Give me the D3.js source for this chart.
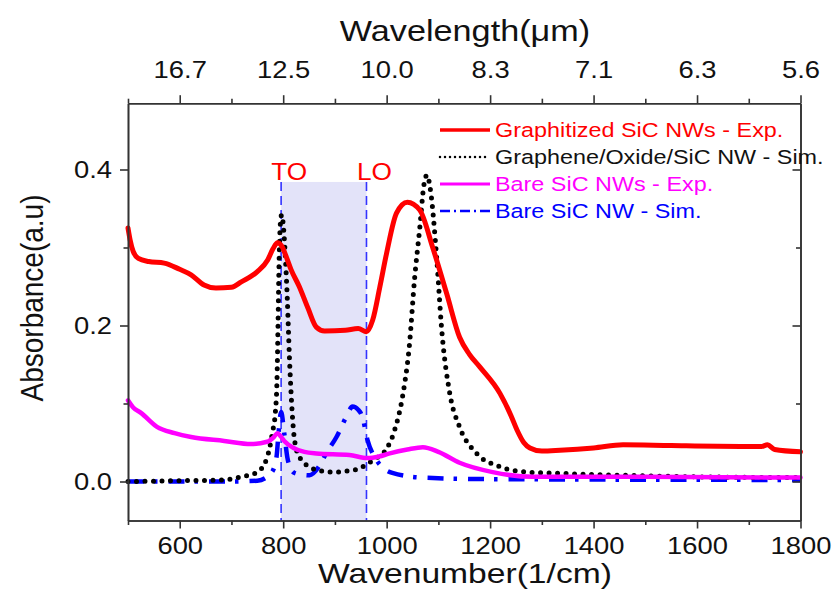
<!DOCTYPE html>
<html>
<head>
<meta charset="utf-8">
<script src="https://cdn.jsdelivr.net/npm/d3@7"></script>
<style>
  body { margin: 0; background: #fff; }
  svg { display: block; font-family: "Liberation Sans", Arial, sans-serif; }
</style>
</head>
<body>
<div id="chart"></div>
<script>
// wavenumber (1/cm), absorbance (a.u)
const graphitizedExp = [
  [500, 0.325], [504, 0.31], [510, 0.295], [520, 0.286], [540, 0.282], [570, 0.280],
  [600, 0.272], [622, 0.265], [647, 0.252], [670, 0.248], [700, 0.249], [719, 0.256],
  [750, 0.269], [770, 0.284], [780, 0.298], [789, 0.306], [797, 0.302], [806, 0.288],
  [815, 0.272], [831, 0.25], [848, 0.222], [864, 0.198], [880, 0.193], [920, 0.194],
  [945, 0.196], [961, 0.192], [973, 0.207], [987, 0.25], [1000, 0.293], [1019, 0.344],
  [1040, 0.358], [1064, 0.348], [1089, 0.30], [1116, 0.241], [1141, 0.185], [1160, 0.163],
  [1180, 0.147], [1219, 0.113], [1240, 0.085], [1252, 0.066], [1265, 0.05], [1277, 0.043],
  [1300, 0.039], [1335, 0.040], [1400, 0.043], [1457, 0.047], [1550, 0.046], [1684, 0.045],
  [1725, 0.045], [1736, 0.047], [1750, 0.041], [1800, 0.038]
];

const grapheneSim = [
  [500, 0.0], [600, 0.001], [686, 0.002], [719, 0.006], [750, 0.012], [769, 0.031],
  [779, 0.062], [785, 0.09], [788, 0.13], [790, 0.2], [792, 0.28], [795, 0.335],
  [797, 0.342], [800, 0.33], [804, 0.29], [808, 0.233], [812, 0.16], [816, 0.104],
  [820, 0.065], [826, 0.04], [835, 0.028], [864, 0.015], [895, 0.012], [930, 0.014],
  [948, 0.017], [961, 0.022], [980, 0.03], [1000, 0.042], [1015, 0.065], [1031, 0.11],
  [1044, 0.175], [1054, 0.26], [1064, 0.325], [1072, 0.38], [1078, 0.393], [1085, 0.372],
  [1097, 0.284], [1106, 0.198], [1122, 0.113], [1141, 0.07], [1174, 0.036], [1219, 0.019],
  [1271, 0.012], [1310, 0.011], [1400, 0.009], [1600, 0.006], [1800, 0.005]
];

const bareExp = [
  [500, 0.104], [510, 0.095], [525, 0.088], [556, 0.07], [590, 0.062], [622, 0.057],
  [686, 0.052], [738, 0.048], [769, 0.051], [782, 0.057], [789, 0.062], [795, 0.058],
  [802, 0.052], [820, 0.043], [841, 0.038], [864, 0.036], [928, 0.034], [963, 0.030],
  [985, 0.032], [1006, 0.036], [1040, 0.041], [1070, 0.044], [1100, 0.038], [1141, 0.024],
  [1205, 0.012], [1283, 0.006], [1500, 0.006], [1800, 0.005]
];

const bareSim = [
  [500, 0.0], [700, 0.0], [750, 0.001], [777, 0.011], [787, 0.031], [791, 0.062],
  [796, 0.089], [802, 0.062], [808, 0.031], [815, 0.016], [822, 0.011], [835, 0.009],
  [851, 0.008], [870, 0.02], [883, 0.036], [903, 0.057], [922, 0.083], [934, 0.096],
  [945, 0.092], [953, 0.083], [963, 0.053], [980, 0.028], [1011, 0.011], [1070, 0.005],
  [1200, 0.003], [1800, 0.002]
];

const phononLines = [{ label: "TO", wn: 796 }, { label: "LO", wn: 961 }];
const bandTop = 0.384;

const legendLabels = [
  "Graphitized SiC NWs - Exp.",
  "Graphene/Oxide/SiC NW - Sim.",
  "Bare SiC NWs - Exp.",
  "Bare SiC NW - Sim."
];

const xMajor = [600, 800, 1000, 1200, 1400, 1600, 1800];
const xMinor = [500, 700, 900, 1100, 1300, 1500, 1700];
const yMajor = [0.0, 0.2, 0.4];
const yMinor = [0.1, 0.3];

const width = 835;
const height = 590;
const STRETCH = 1.14; // glyphs in the picture are a bit wider than tall

const x = d3.scaleLinear().domain([500, 1800]).range([128, 800.5]);
const y = d3.scaleLinear().domain([-0.05, 0.485]).range([520.5, 103.2]);

const svg = d3.select("#chart").append("svg")
  .attr("width", width)
  .attr("height", height);

svg.append("rect").attr("width", width).attr("height", height).attr("fill", "#fff");

// shaded reststrahlen band
svg.append("rect")
  .attr("x", x(phononLines[0].wn))
  .attr("y", y(bandTop))
  .attr("width", x(phononLines[1].wn) - x(phononLines[0].wn))
  .attr("height", y(-0.05) - y(bandTop))
  .attr("fill", "rgba(100,100,220,0.18)");

svg.selectAll(".phonon")
  .data(phononLines)
  .join("line")
  .attr("class", "phonon")
  .attr("x1", d => x(d.wn)).attr("x2", d => x(d.wn))
  .attr("y1", y(bandTop)).attr("y2", y(-0.05))
  .attr("stroke", "#3333ff")
  .attr("stroke-width", 1.6)
  .attr("stroke-dasharray", "9 5");

svg.selectAll(".phonon-label")
  .data(phononLines)
  .join("text")
  .attr("class", "phonon-label stretch")
  .attr("x", d => x(d.wn) + 8)
  .attr("y", 180)
  .attr("text-anchor", "middle")
  .attr("font-size", 23)
  .attr("fill", "#ff0000")
  .text(d => d.label);

// curves
const line = d3.line()
  .x(d => x(d[0]))
  .y(d => y(d[1]))
  .curve(d3.curveMonotoneX);

const series = [
  { data: bareSim, color: "#0000ff", width: 4.5, dash: "16 10 3.5 11", cap: "butt" },
  { data: grapheneSim, color: "#000000", width: 5, dash: "0 8.5", cap: "round" },
  { data: bareExp, color: "#ff00ff", width: 4.5, dash: null, cap: "round" },
  { data: graphitizedExp, color: "#ff0000", width: 5, dash: null, cap: "round" }
];

const plot = svg.append("g").attr("class", "curves");
series.forEach(s => {
  plot.append("path")
    .datum(s.data)
    .attr("d", line)
    .attr("fill", "none")
    .attr("stroke", s.color)
    .attr("stroke-width", s.width)
    .attr("stroke-linecap", s.cap)
    .attr("stroke-linejoin", "round")
    .attr("stroke-dasharray", s.dash);
});

// axes
function drawAxis(axisFn, transform, major, minor, fmt, padding, inward) {
  const dir = inward ? -1 : 1;
  svg.append("g")
    .attr("transform", transform)
    .call(axisFn().tickValues(minor).tickFormat("").tickSize(4.5 * dir).tickSizeOuter(0));
  return svg.append("g")
    .attr("transform", transform)
    .call(axisFn().tickValues(major).tickFormat(fmt).tickSize(8 * dir).tickPadding(padding).tickSizeOuter(0));
}

const gBottom = drawAxis(() => d3.axisBottom(x), "translate(0,520.5)", xMajor, xMinor, d3.format("d"), 8, false);
const gTop = drawAxis(() => d3.axisTop(x), "translate(0,103.2)", xMajor, xMinor, d => (10000 / d).toFixed(1), 17, false);
const gLeft = drawAxis(() => d3.axisLeft(y), "translate(128,0)", yMajor, yMinor, d3.format(".1f"), 8, false);
const gRight = drawAxis(() => d3.axisRight(y), "translate(800.5,0)", yMajor, yMinor, "", 0, true);

svg.selectAll(".domain, .tick line")
  .attr("stroke", "#333")
  .attr("stroke-width", 1.6);

[gBottom, gTop, gLeft].forEach(g => {
  g.selectAll("text")
    .attr("class", "stretch")
    .attr("fill", "#111")
    .style("font-family", "'Liberation Sans', Arial, sans-serif")
    .style("font-size", "24px");
});
gRight.selectAll("text").remove();

// axis titles
svg.append("text")
  .attr("class", "stretch wide")
  .attr("x", 465).attr("y", 583)
  .attr("text-anchor", "middle")
  .attr("font-size", 28)
  .attr("fill", "#111")
  .text("Wavenumber(1/cm)");

svg.append("text")
  .attr("class", "stretch")
  .attr("x", 465).attr("y", 41)
  .attr("text-anchor", "middle")
  .attr("font-size", 30)
  .attr("fill", "#111")
  .text("Wavelength(\u03bcm)");

svg.append("text")
  .attr("transform", "translate(43,298) scale(1.14,1) rotate(-90)")
  .attr("text-anchor", "middle")
  .attr("font-size", 28)
  .attr("fill", "#111")
  .text("Absorbance(a.u)");

// legend
const legendRows = [130, 157, 184, 211];
const legendStyle = [
  { color: "#ff0000", width: 3.5, dash: null, cap: "butt" },
  { color: "#000000", width: 2.5, dash: "0 5", cap: "round" },
  { color: "#ff00ff", width: 3, dash: null, cap: "butt" },
  { color: "#0000ff", width: 2.5, dash: "10 4 2 4", cap: "butt" }
];

const legend = svg.append("g").attr("class", "legend");
legendLabels.forEach((label, i) => {
  const st = legendStyle[i];
  legend.append("line")
    .attr("x1", 440).attr("x2", 490)
    .attr("y1", legendRows[i]).attr("y2", legendRows[i])
    .attr("stroke", st.color)
    .attr("stroke-width", st.width)
    .attr("stroke-linecap", st.cap)
    .attr("stroke-dasharray", st.dash);
  legend.append("text")
    .attr("class", "stretch")
    .attr("x", 495).attr("y", legendRows[i] + 7)
    .attr("font-size", 20.5)
    .attr("fill", i === 1 ? "#111" : st.color)
    .text(label);
});

// widen glyphs to match the picture's aspect
svg.selectAll("text.stretch").each(function () {
  const len = this.getComputedTextLength();
  const k = this.classList.contains("wide") ? 1.2 : STRETCH;
  if (len > 0) {
    d3.select(this)
      .attr("textLength", len * k)
      .attr("lengthAdjust", "spacingAndGlyphs");
  }
});
</script>
</body>
</html>
